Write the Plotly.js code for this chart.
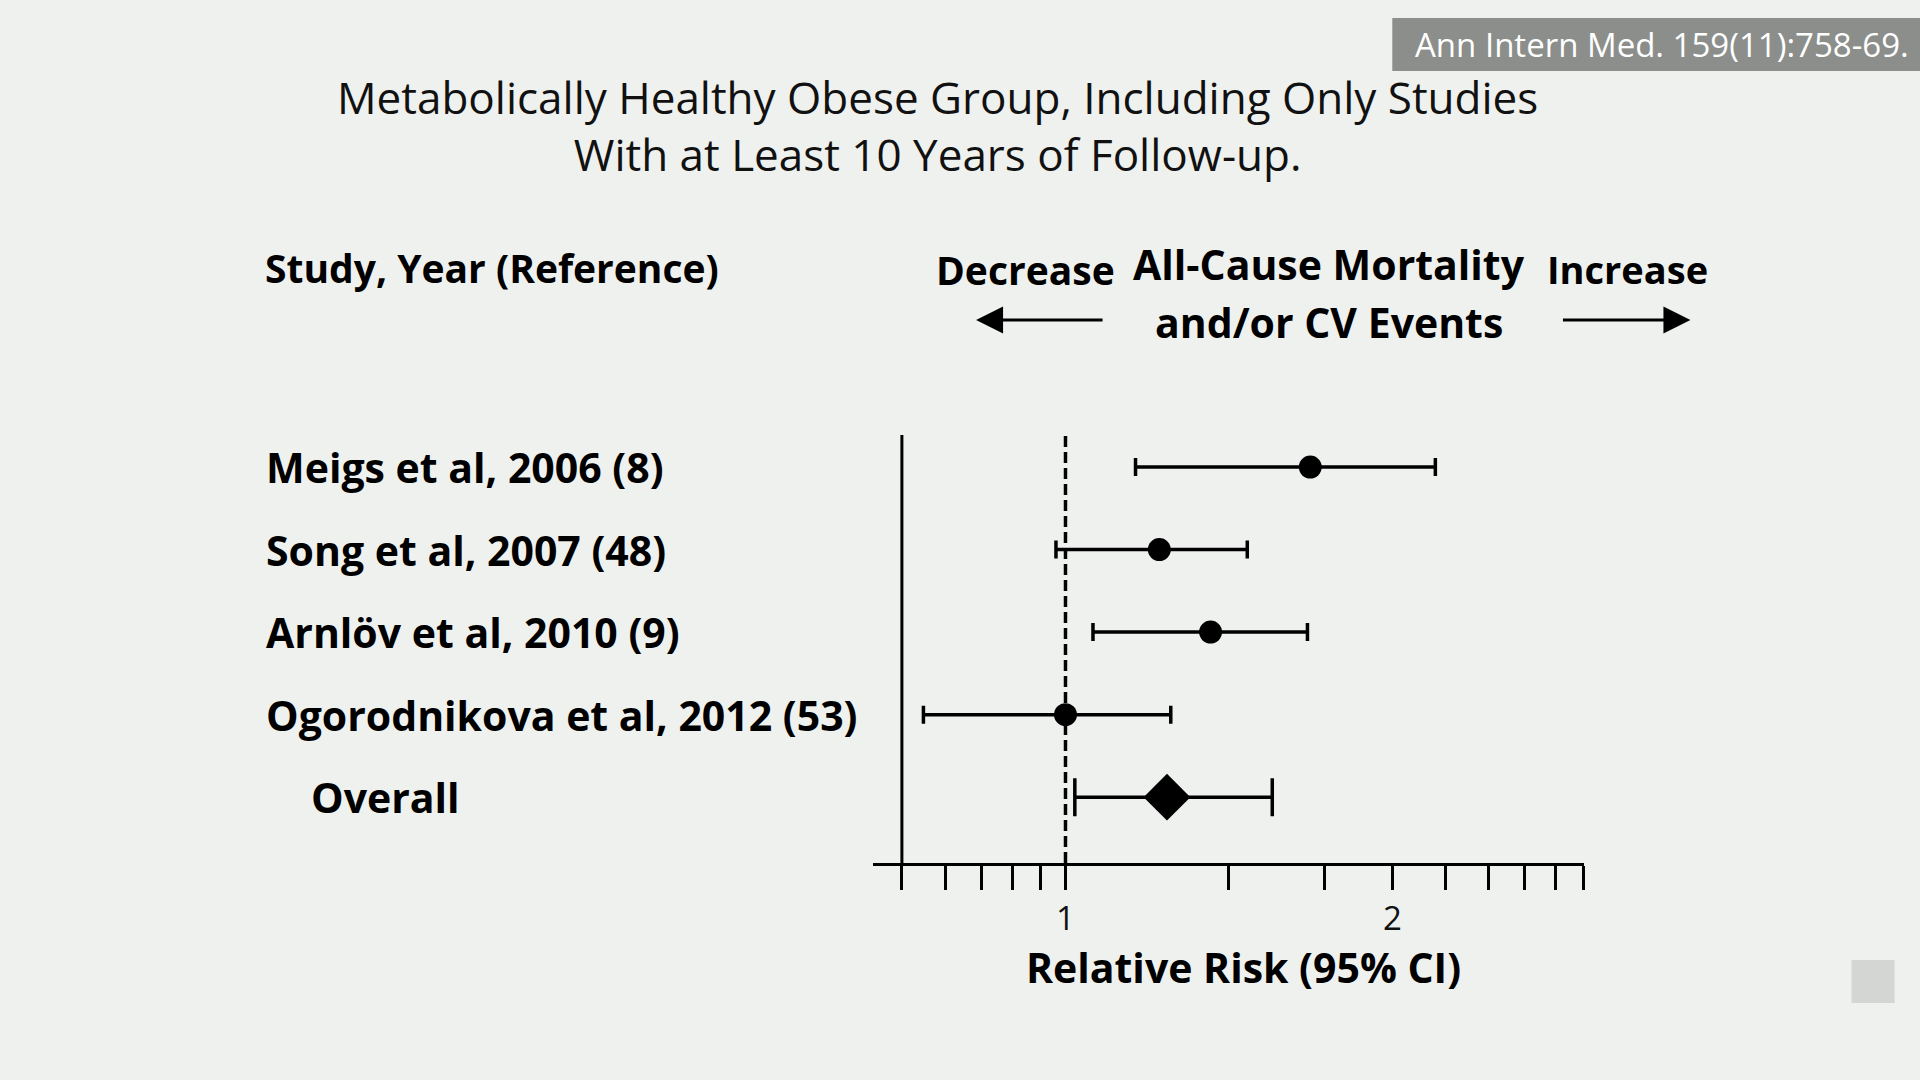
<!DOCTYPE html>
<html>
<head>
<meta charset="utf-8">
<script src="https://cdn.plot.ly/plotly-3.0.1.min.js"></script>
<style>
  html, body { margin: 0; padding: 0; background: #eff1ef; }
  #chart { width: 1920px; height: 1080px; }
</style>
</head>
<body>
<div id="chart"></div>
<script>
// Forest plot: relative risk (95% CI) by study, log-scaled x axis
const studies = ['Meigs et al, 2006 (8)', 'Song et al, 2007 (48)', 'Arnlöv et al, 2010 (9)', 'Ogorodnikova et al, 2012 (53)'];
const studyRows = [5, 4, 3, 2];
const studyRR = [1.68, 1.22, 1.36, 1.00];
const studyLow = [1.16, 0.98, 1.06, 0.74];
const studyHigh = [2.19, 1.47, 1.67, 1.25];

const overallLabel = ['Overall'];
const overallRows = [1];
const overallRR = [1.24];
const overallLow = [1.02];
const overallHigh = [1.55];

const tickValues = [0.707, 0.775, 0.837, 0.894, 0.949, 1, 1.414, 1.732, 2, 2.236, 2.449, 2.646, 2.828, 3];
const tickLabels = ['', '', '', '', '', '1', '', '', '2', '', '', '', '', ''];

// plot frame in page pixels
const W = 1920, H = 1080;
const L = 873, R = 1583.6, T = 431, B = 863;
const px = x => (x - L) / (R - L);
const py = y => (B - y) / (B - T);

const labelFont = { family: 'Open Sans', size: 41, color: '#000', weight: 700 };
const headFont = { family: 'Open Sans', size: 39, color: '#000', weight: 700 };
const titleFont = { family: 'Open Sans', size: 44, color: '#111', weight: 400 };

const traces = [
  {
    type: 'scatter', mode: 'markers',
    x: studyRR, y: studyRows,
    marker: { symbol: 'circle', size: 23, color: '#000' },
    error_x: {
      type: 'data', symmetric: false,
      array: studyRR.map((v, i) => studyHigh[i] - v),
      arrayminus: studyRR.map((v, i) => v - studyLow[i]),
      color: '#000', thickness: 3.5, width: 9
    },
    hoverinfo: 'skip', showlegend: false
  },
  {
    type: 'scatter', mode: 'markers',
    x: overallRR, y: overallRows,
    marker: { symbol: 'diamond', size: 36, color: '#000' },
    error_x: {
      type: 'data', symmetric: false,
      array: overallRR.map((v, i) => overallHigh[i] - v),
      arrayminus: overallRR.map((v, i) => v - overallLow[i]),
      color: '#000', thickness: 3.5, width: 19
    },
    hoverinfo: 'skip', showlegend: false
  }
];

const annotations = [];
studies.forEach((s, i) => annotations.push({
  text: s, xref: 'paper', yref: 'y', x: px(264), y: studyRows[i],
  xanchor: 'left', yanchor: 'middle', showarrow: false, font: labelFont
}));
overallLabel.forEach((s, i) => annotations.push({
  text: s, xref: 'paper', yref: 'y', x: px(309), y: overallRows[i],
  xanchor: 'left', yanchor: 'middle', showarrow: false, font: labelFont
}));

function note(text, x, y, font, anchor) {
  annotations.push({
    text: text, xref: 'paper', yref: 'paper', x: px(x), y: py(y),
    xanchor: anchor || 'center', yanchor: 'middle', showarrow: false, font: font
  });
}
note('Study, Year (Reference)', 263, 267, headFont, 'left');
note('Decrease', 1025, 269, headFont);
note('All-Cause Mortality', 1329, 264, labelFont);
note('and/or CV Events', 1329, 322, labelFont);
note('Increase', 1627, 269, { family: 'Open Sans', size: 38, color: '#000', weight: 700 });
note('Relative Risk (95% CI)', 1243, 967, labelFont);

// direction arrows
[[976, 1104], [1690, 1561]].forEach(([head, tail]) => annotations.push({
  text: '', xref: 'paper', yref: 'paper', x: px(head), y: py(320),
  ax: tail - head, ay: 0, axref: 'pixel', ayref: 'pixel',
  showarrow: true, arrowhead: 2, arrowsize: 1.8, arrowwidth: 3, arrowcolor: '#000'
}));

// two-line title
note('Metabolically Healthy Obese Group, Including Only Studies<br>With at Least 10 Years of Follow-up.',
  937, 126, titleFont);

// citation tag
note('Ann Intern Med. 159(11):758-69.', 1662, 44,
  { family: 'Open Sans', size: 33, color: '#ffffff', weight: 400 });

const shapes = [
  // reference line at RR = 1
  { type: 'line', xref: 'x', yref: 'paper', x0: 1, x1: 1, y0: 0, y1: 1,
    line: { color: '#000', width: 3.5, dash: '11px,5px' } },
  // left frame line
  { type: 'line', xref: 'x', yref: 'paper', x0: 0.707, x1: 0.707, y0: 0, y1: py(435),
    line: { color: '#000', width: 3 } },
  // citation box
  { type: 'rect', xref: 'paper', yref: 'paper', x0: px(1392), x1: px(1920), y0: py(18), y1: py(71),
    fillcolor: '#8b8e8b', line: { width: 0 }, layer: 'below' },
  // corner square
  { type: 'rect', xref: 'paper', yref: 'paper', x0: px(1851), x1: px(1894), y0: py(960), y1: py(1003),
    fillcolor: '#d4d6d4', line: { width: 0 }, layer: 'below' }
];

const layout = {
  width: W, height: H,
  margin: { l: L, r: W - R, t: T, b: H - B, pad: 0 },
  paper_bgcolor: '#eff1ef', plot_bgcolor: 'rgba(0,0,0,0)',
  showlegend: false,
  xaxis: {
    type: 'log', range: [Math.log10(0.665), Math.log10(3.001)],
    showgrid: false, zeroline: false,
    showline: true, linecolor: '#000', linewidth: 3,
    tickmode: 'array', tickvals: tickValues, ticktext: tickLabels,
    ticks: 'outside', ticklen: 24, tickwidth: 3, tickcolor: '#000',
    tickfont: { family: 'Open Sans', size: 33, color: '#111' },
    fixedrange: true
  },
  yaxis: {
    range: [0.202, 5.437], showgrid: false, zeroline: false, showline: false,
    showticklabels: false, ticks: '', fixedrange: true
  },
  shapes: shapes,
  annotations: annotations
};

Plotly.newPlot('chart', traces, layout, { staticPlot: true, displayModeBar: false });
</script>
</body>
</html>
